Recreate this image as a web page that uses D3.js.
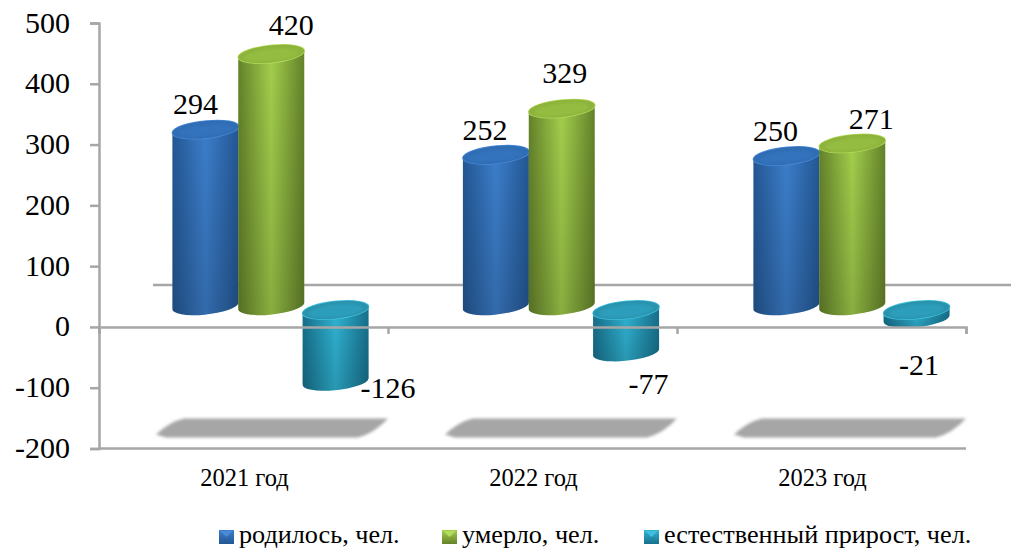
<!DOCTYPE html>
<meta charset="utf-8">
<style>
  body { margin: 0; background: #fff; font-family: "Liberation Serif", serif; }
  svg { display: block; }
  .axis path, .axis line { stroke: #a6a6a6; stroke-width: 2.5; fill: none; }
  .axis text { font-family: "Liberation Serif", serif; font-size: 30px; fill: #000; }
  .cat { font-size: 24.5px; text-anchor: middle; }
  .lab { font-size: 30px; text-anchor: middle; }
  .leg { font-size: 26.2px; }
</style>
<body></body>
<script src="https://cdn.jsdelivr.net/npm/d3@7"></script>
<script>
var categories = ["2021 год", "2022 год", "2023 год"];
var seriesNames = ["родилось, чел.", "умерло, чел.", "естественный прирост, чел."];
var born = [294, 252, 250];
var died = [420, 329, 271];
var growth = [-126, -77, -21];
var yTicks = [500, 400, 300, 200, 100, 0, -100, -200];

var seriesValues = [born, died, growth];
var pal = [
  {edge: "#235793", mid: "#3c7ecb", top: "#2f6db4", rim: "#4a8ad6"},
  {edge: "#64822a", mid: "#a3cf4c", top: "#8db33c", rim: "#b3dc5c"},
  {edge: "#17708c", mid: "#30b4d4", top: "#2a93ae", rim: "#3fc0de"}
];

var w = 1011, h = 548;
var svg = d3.select("body").append("svg").attr("width", w).attr("height", h);
var defs = svg.append("defs");

pal.forEach(function(p, i) {
  var g = defs.append("linearGradient").attr("id", "body" + i);
  g.append("stop").attr("offset", 0).attr("stop-color", p.edge);
  g.append("stop").attr("offset", .5).attr("stop-color", p.mid);
  g.append("stop").attr("offset", 1).attr("stop-color", p.edge);
});
var dark = defs.append("linearGradient").attr("id", "fade").attr("x2", 0).attr("y2", 1);
dark.append("stop").attr("offset", 0).attr("stop-color", "#000").attr("stop-opacity", 0);
dark.append("stop").attr("offset", 1).attr("stop-color", "#000").attr("stop-opacity", .16);
defs.append("filter").attr("id", "blur").append("feGaussianBlur").attr("stdDeviation", 1.6);

// axis scale plus the slightly smaller scale of the 3d plane the bars stand in
var y = d3.scaleLinear().domain([-200, 500]).range([448.5, 23]);
var yBar = d3.scaleLinear().domain([0, 500]).range([306, 6]);
var x = d3.scaleBand().domain(categories).range([99, 966]);
var xBar = d3.scaleBand().domain(categories).range([126, 997.5]).paddingInner(.32).paddingOuter(.16);
var xSub = d3.scaleBand().domain(d3.range(3)).range([0, xBar.bandwidth()]);
var xTick = d3.scaleLinear().domain([0, 3]).range([99, 966]);

var rx = 33, ry = 8.5, tilt = -6, lean = 3;

// back wall line
svg.append("line")
  .attr("x1", 153).attr("x2", w)
  .attr("y1", y(0) - 42).attr("y2", y(0) - 42)
  .attr("stroke", "#a6a6a6").attr("stroke-width", 2.5);

// floor shadows
categories.forEach(function(c) {
  var x0 = x(c) + 53, x1 = x0 + 236, t = y(-200) - 30, b = y(-200) - 11;
  svg.append("path")
    .attr("d", "M" + (x0 + 4) + "," + (b - 3) +
      "Q" + (x0 + 18) + "," + (t + 3) + " " + (x0 + 32) + "," + t +
      "L" + x1 + "," + t +
      "Q" + (x1 - 14) + "," + (b - 4) + " " + (x1 - 30) + "," + b +
      "L" + (x0 + 14) + "," + b + "Z")
    .attr("fill", "#a6a6a6")
    .attr("filter", "url(#blur)");
});

function ellipse(cx, cy, a, b) {
  return "M" + (cx - a) + "," + (cy + lean * a / rx) +
    "A" + a + "," + b + " " + tilt + " 1 1 " + (cx + a) + "," + (cy - lean * a / rx) +
    "A" + a + "," + b + " " + tilt + " 1 1 " + (cx - a) + "," + (cy + lean * a / rx) + "Z";
}

function side(cx, yTop, yBottom) {
  return "M" + (cx - rx) + "," + (yTop + lean) +
    "L" + (cx - rx) + "," + (yBottom + lean) +
    "A" + rx + "," + ry + " " + tilt + " 0 0 " + (cx + rx) + "," + (yBottom - lean) +
    "L" + (cx + rx) + "," + (yTop - lean) + "Z";
}

seriesValues.forEach(function(vals, s) {
  vals.forEach(function(v, i) {
    var cx = xBar(categories[i]) + xSub(s) + xSub.bandwidth() / 2 + (s == 2 ? -1.5 : 0);
    var offs = s == 2 ? 4 : 0;          // the negative bars start a bit lower
    var yTop = v >= 0 ? yBar(v) : yBar(0) + offs;
    var yBottom = v >= 0 ? yBar(0) : yBar(v);
    var p = pal[s];
    var g = svg.append("g");
    g.append("path").attr("d", side(cx, yTop, yBottom)).attr("fill", "url(#body" + s + ")");
    g.append("path").attr("d", side(cx, yTop, yBottom)).attr("fill", "url(#fade)");
    g.append("path").attr("d", ellipse(cx, yTop, rx, ry)).attr("fill", "none")
      .attr("stroke", p.rim).attr("stroke-width", 1.5);
    g.append("path").attr("d", ellipse(cx, yTop, rx, ry)).attr("fill", p.top);
    g.append("path").attr("d", ellipse(cx, yTop + 1, rx - 6, ry - 2.5)).attr("fill", p.mid)
      .attr("opacity", .35).attr("filter", "url(#blur)");
  });
});

// axes
svg.append("g").attr("class", "axis")
  .attr("transform", "translate(99,0)")
  .call(d3.axisLeft(y).tickValues(yTicks).tickSize(9).tickPadding(20).tickFormat(String))
  .call(function(g) { g.selectAll("text").attr("dy", "0.3em"); });

svg.append("g").attr("class", "axis")
  .attr("transform", "translate(0," + y(0) + ")")
  .call(d3.axisBottom(xTick).tickValues([0, 1, 2, 3]).tickSize(7).tickFormat(""));

svg.append("line")
  .attr("x1", 99).attr("x2", 966)
  .attr("y1", y(-200)).attr("y2", y(-200))
  .attr("stroke", "#a6a6a6").attr("stroke-width", 2.5);

// category labels
svg.selectAll("text.cat").data(categories).enter().append("text")
  .attr("class", "cat")
  .attr("x", function(d) { return x(d) + x.bandwidth() / 2 + 1; })
  .attr("y", 486)
  .text(function(d) { return d; });

// data labels were moved by hand in the original
var labelNudge = [
  [[-10, -7], [-11, -6], [-11, -7]],
  [[20, -11], [3, -17], [19, -6]],
  [[51, 16], [21, 42], [1, 56]]
];
seriesValues.forEach(function(vals, s) {
  vals.forEach(function(v, i) {
    var cx = xBar(categories[i]) + xSub(s) + xSub.bandwidth() / 2;
    var base = yBar(Math.max(v, 0));
    var ny = v >= 0 ? base - ry : yBar(v);
    svg.append("text").attr("class", "lab")
      .attr("x", cx + labelNudge[s][i][0])
      .attr("y", ny + labelNudge[s][i][1])
      .text(v);
  });
});

// legend
var legendX = [219, 442, 644];
seriesNames.forEach(function(name, s) {
  var g = svg.append("g").attr("transform", "translate(" + legendX[s] + ",530)");
  var grad = defs.append("linearGradient").attr("id", "leg" + s).attr("x2", 0).attr("y2", 1);
  grad.append("stop").attr("offset", 0).attr("stop-color", pal[s].mid);
  grad.append("stop").attr("offset", 1).attr("stop-color", pal[s].edge);
  g.append("rect").attr("width", 15).attr("height", 14).attr("fill", "url(#leg" + s + ")");
  g.append("path").attr("d", "M1,1L14,1L7.5,7Z").attr("fill", pal[s].rim);
  g.append("text").attr("class", "leg").attr("x", 20).attr("y", 13).text(name);
});
</script>
